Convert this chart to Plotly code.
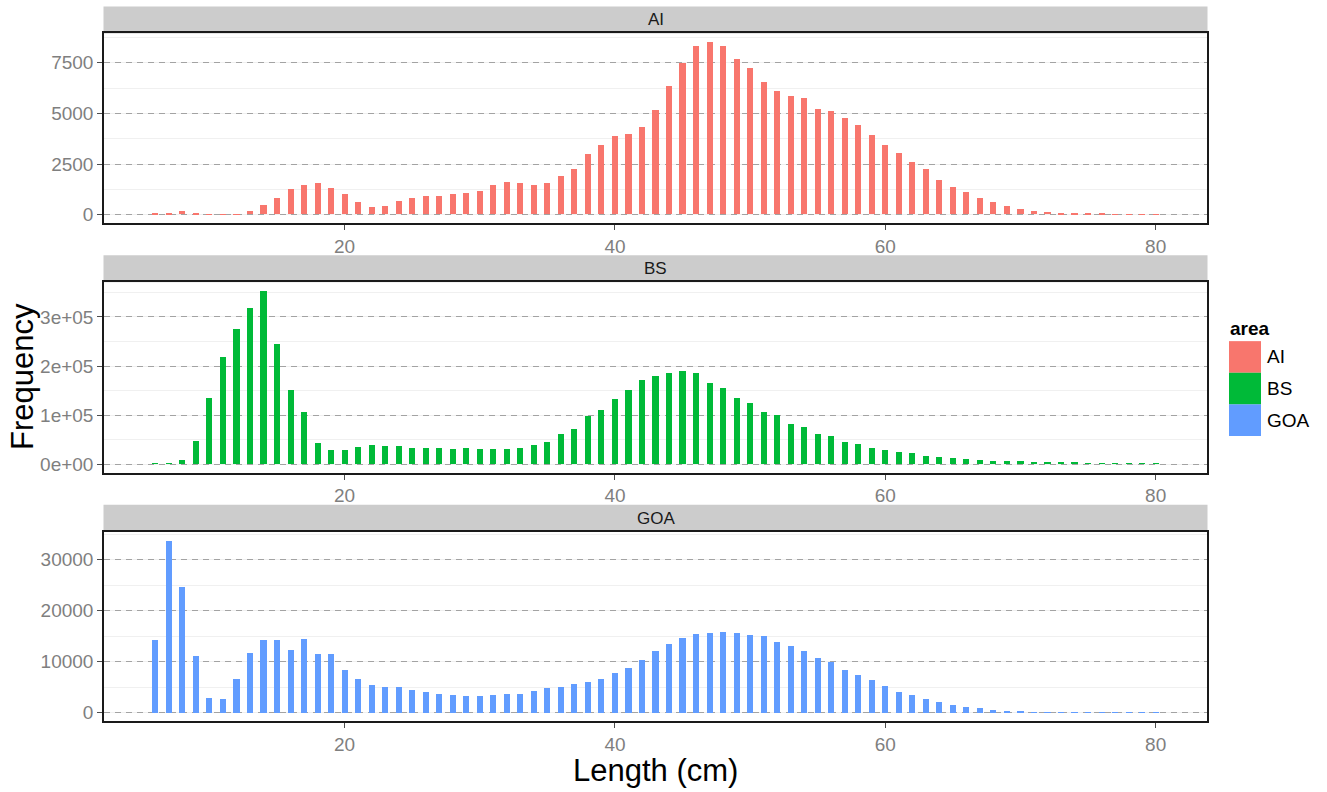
import plotly.graph_objects as go

W, H = 1327, 792

areas = ["AI", "BS", "GOA"]
colors = {"AI": "#F8766D", "BS": "#00BA38", "GOA": "#619CFF"}

lengths = list(range(6, 81))

ai_freq = [20, 40, 165, 65, 15, 15, 15, 165, 440, 790,
           1245, 1460, 1555, 1310, 985, 605, 360, 395, 670, 790,
           885, 885, 985, 1080, 1150, 1460, 1590, 1525, 1460, 1525,
           1870, 2260, 2985, 3425, 3885, 3985, 4325, 5165, 6360, 7460,
           8295, 8525, 8295, 7670, 7230, 6540, 6100, 5850, 5720, 5210,
           5080, 4735, 4410, 3935, 3440, 3050, 2605, 2260, 1720, 1375,
           1115, 820, 590, 425, 280, 165, 130, 65, 50, 35,
           20, 15, 10, 10, 10]

bs_freq = [200, 700, 8150, 46200, 135100, 217300, 275000, 317800, 353100, 245100,
           150100, 105200, 43500, 29200, 27800, 34600, 38000, 36700, 36700, 32600,
           32600, 32600, 31200, 32600, 31200, 31200, 31200, 32600, 38000, 44800,
           60400, 71300, 97100, 109300, 133100, 150100, 171100, 179300, 186000, 189400,
           184700, 165700, 154800, 135100, 124900, 106600, 99800, 81500, 76000, 61800,
           57000, 44800, 40700, 31900, 29200, 23800, 22400, 17000, 14900, 12900,
           10900, 8150, 6800, 5400, 5400, 3400, 3400, 2000, 2000, 1400,
           700, 700, 600, 500, 400]

goa_freq = [14210, 33800, 24790, 11160, 2990, 2660, 6680, 11810, 14340, 14210,
            12330, 14470, 11550, 11550, 8440, 6680, 5520, 5130, 5130, 4540,
            4020, 3760, 3500, 3245, 3245, 3500, 3630, 3760, 4280, 4800,
            5130, 5580, 6100, 6555, 7790, 8890, 10380, 12200, 13430, 14730,
            15450, 15700, 15970, 15700, 15320, 15060, 13820, 13170, 12200, 10770,
            9990, 8440, 7400, 6360, 5260, 4150, 3500, 2660, 2140, 1620,
            1230, 910, 650, 390, 260, 130, 130, 65, 65, 65,
            30, 20, 20, 15, 10]

freqs = {"AI": ai_freq, "BS": bs_freq, "GOA": goa_freq}

x_ticks = [20, 40, 60, 80]
y_ticks = {
    "AI": [0, 2500, 5000, 7500],
    "BS": [0, 100000, 200000, 300000],
    "GOA": [0, 10000, 20000, 30000],
}
y_ticktext = {
    "AI": ["0", "2500", "5000", "7500"],
    "BS": ["0e+00", "1e+05", "2e+05", "3e+05"],
    "GOA": ["0", "10000", "20000", "30000"],
}
y_minor = {"AI": 1250, "BS": 50000, "GOA": 5000}

# panel geometry in pixels (top, bottom) of plotting area, strip above
panel_left, panel_right = 104, 1207
panels_px = {"AI": (33.5, 224), "BS": (283, 474), "GOA": (533, 723)}
strip_h = 27

def px_x(v):
    return v / W

def px_y(v):
    return 1 - v / H

fig = go.Figure()
shapes = []
annotations = []

tick_font = dict(family="Liberation Sans", size=19, color="#7f7f7f")

for i, a in enumerate(areas):
    n = i + 1
    xa = "x" if n == 1 else f"x{n}"
    ya = "y" if n == 1 else f"y{n}"
    fig.add_trace(go.Bar(
        x=lengths, y=freqs[a], width=0.45,
        marker=dict(color=colors[a], line=dict(width=0)),
        xaxis=xa, yaxis=ya, showlegend=False, name=a,
    ))
    top, bot = panels_px[a]
    ymax = max(freqs[a])
    ykey = "yaxis" if n == 1 else f"yaxis{n}"
    xkey = "xaxis" if n == 1 else f"xaxis{n}"
    fig.layout[xkey] = dict(
        domain=[px_x(panel_left), px_x(panel_right)],
        anchor=ya, range=[2.2, 83.8],
        tickvals=x_ticks, ticktext=[str(t) for t in x_ticks],
        showgrid=False, zeroline=False,
        showline=True, mirror=True, linecolor="#1a1a1a", linewidth=1.5,
        ticks="outside", ticklen=5, tickcolor="#4d4d4d", tickwidth=1,
        tickfont=tick_font,
    )
    fig.layout[ykey] = dict(
        domain=[px_y(bot), px_y(top)],
        anchor=xa, range=[-0.05 * ymax, 1.05 * ymax],
        tickvals=y_ticks[a], ticktext=y_ticktext[a],
        showgrid=True, gridcolor="#a3a3a3", griddash="6px,5px", gridwidth=1.2,
        minor=dict(dtick=y_minor[a], tick0=0, showgrid=True, gridcolor="#f0f0f0",
                   gridwidth=1, griddash="solid", ticks=""),
        zeroline=False,
        showline=True, mirror=True, linecolor="#1a1a1a", linewidth=1.5,
        ticks="outside", ticklen=5, tickcolor="#4d4d4d", tickwidth=1,
        tickfont=tick_font,
    )
    # strip
    shapes.append(dict(
        type="rect", xref="paper", yref="paper",
        x0=px_x(panel_left - 0.5), x1=px_x(panel_right + 0.5),
        y0=px_y(top), y1=px_y(top - strip_h),
        fillcolor="#cccccc", line=dict(width=0), layer="below",
    ))
    annotations.append(dict(
        xref="paper", yref="paper",
        x=px_x((panel_left + panel_right) / 2), y=px_y(top - strip_h / 2),
        text=a, showarrow=False, xanchor="center", yanchor="middle",
        font=dict(family="Liberation Sans", size=17, color="#1a1a1a"),
    ))

# axis titles
annotations.append(dict(
    xref="paper", yref="paper", x=px_x((panel_left + panel_right) / 2), y=px_y(772),
    text="Length (cm)", showarrow=False, xanchor="center", yanchor="middle",
    font=dict(family="Liberation Sans", size=31, color="black"),
))
annotations.append(dict(
    xref="paper", yref="paper", x=px_x(22), y=px_y(378),
    text="Frequency", showarrow=False, xanchor="center", yanchor="middle",
    textangle=-90,
    font=dict(family="Liberation Sans", size=31, color="black"),
))

# legend (drawn manually)
annotations.append(dict(
    xref="paper", yref="paper", x=px_x(1228), y=px_y(329),
    text="<b>area</b>", showarrow=False, xanchor="left", yanchor="middle",
    font=dict(family="Liberation Sans", size=19, color="black"),
))
key_top = 342
key_h = 31.7
for j, a in enumerate(areas):
    y0 = key_top + j * key_h
    shapes.append(dict(
        type="rect", xref="paper", yref="paper",
        x0=px_x(1229), x1=px_x(1261), y0=px_y(y0 + key_h), y1=px_y(y0),
        fillcolor=colors[a], line=dict(width=0),
    ))
    annotations.append(dict(
        xref="paper", yref="paper", x=px_x(1265), y=px_y(y0 + key_h / 2),
        text=a, showarrow=False, xanchor="left", yanchor="middle",
        font=dict(family="Liberation Sans", size=19, color="black"),
    ))

fig.update_layout(
    width=W, height=H,
    margin=dict(l=0, r=0, t=0, b=0),
    paper_bgcolor="white", plot_bgcolor="white",
    shapes=shapes, annotations=annotations,
    bargap=0, showlegend=False,
    font=dict(family="Liberation Sans"),
)

fig.write_html("out.html")
